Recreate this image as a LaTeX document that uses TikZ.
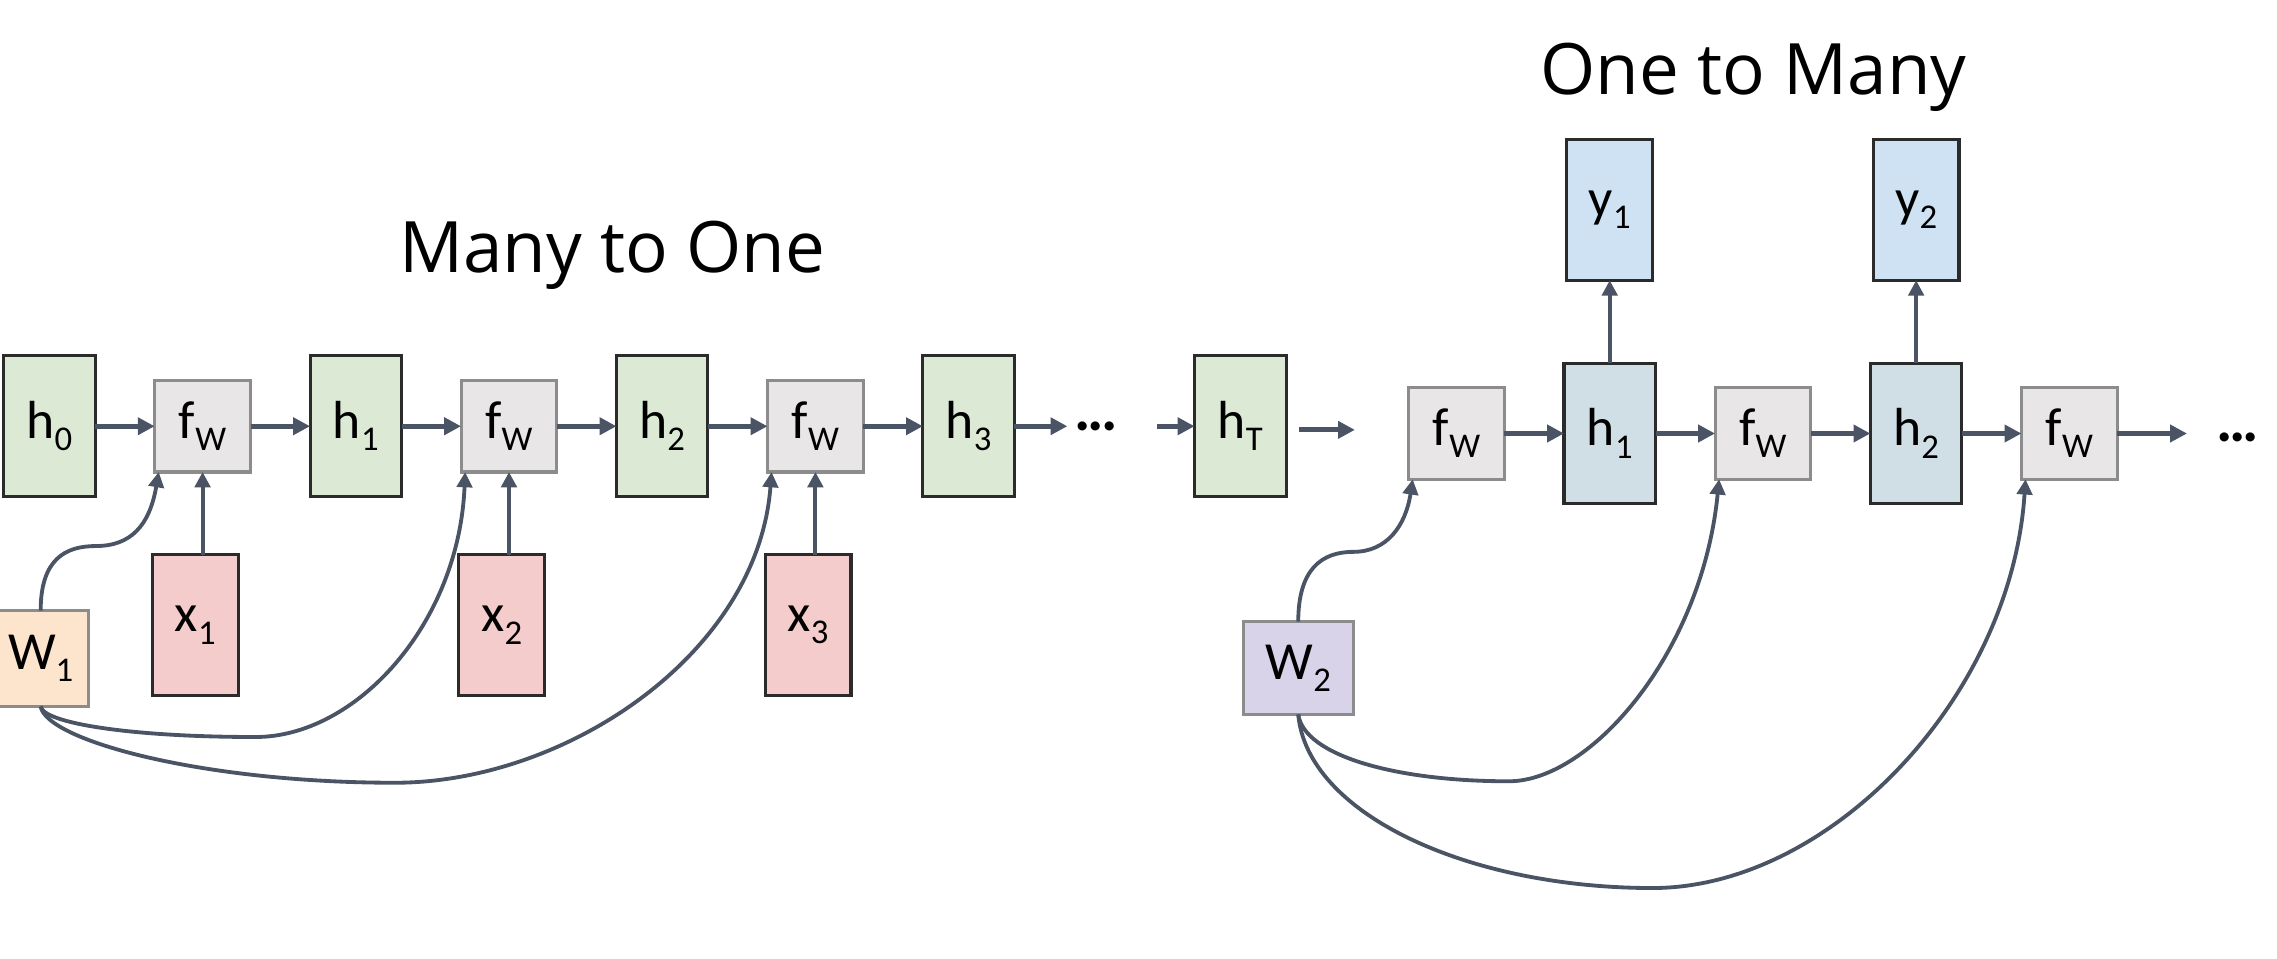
\documentclass[tikz,border=0pt]{standalone}
\usepackage{fontspec}
\setmainfont{Carlito}
\newfontfamily\titlefont{Open Sans}
\usepackage{xcolor}
\usepackage{tikz}
\usetikzlibrary{arrows.meta, positioning, calc}

\definecolor{hgreen}{HTML}{DCE9D5}
\definecolor{fgreybg}{HTML}{E8E6E6}
\definecolor{fgreyline}{HTML}{8C8C8C}
\definecolor{xpink}{HTML}{F4CCCC}
\definecolor{wpeach}{HTML}{FDE4CD}
\definecolor{wlav}{HTML}{D9D3E9}
\definecolor{yblue}{HTML}{CFE2F3}
\definecolor{hblue}{HTML}{D0DFE6}
\definecolor{arrowc}{HTML}{4A5464}
\definecolor{boxline}{HTML}{2B2B2B}

\newcommand\lsub[1]{\raisebox{-2.4pt}{\fontsize{6.8}{8}\selectfont #1}}

\begin{document}
\begin{tikzpicture}[
    node distance=0.41cm,
    base/.style={rectangle, inner sep=0pt, outer sep=0pt, line width=0.6pt, font=\fontsize{10.5}{12}\selectfont},
    hbox/.style={base, draw=boxline, fill=hgreen, minimum width=0.63cm, minimum height=0.97cm},
    hrbox/.style={base, draw=boxline, fill=hblue, minimum width=0.63cm, minimum height=0.97cm},
    fbox/.style={base, draw=fgreyline, fill=fgreybg, minimum width=0.66cm, minimum height=0.63cm},
    xbox/.style={base, draw=boxline, fill=xpink, minimum width=0.59cm, minimum height=0.97cm},
    ybox/.style={base, draw=boxline, fill=yblue, minimum width=0.59cm, minimum height=0.97cm},
    wbox/.style={base, draw=fgreyline, minimum height=0.66cm},
    dots/.style={inner xsep=0pt, outer sep=0pt, font=\fontsize{12}{14}\selectfont\bfseries},
    title/.style={anchor=base, font=\titlefont\fontsize{13.9}{17}\selectfont},
    msg/.style={line width=1pt, draw=arrowc, ->, >={Triangle[length=3.3pt,width=3.3pt]}},
    up/.style={line width=0.8pt, draw=arrowc, ->, >={Triangle[length=3pt,width=3pt]}},
    link/.style={line width=0.75pt, draw=arrowc, ->, >={Triangle[length=3pt,width=3pt]}}
]
\useasboundingbox (0,0) rectangle (15.68,-6.60);

% Titles
\node[title] (many) at (4.215,-1.878) {Many to One};
\node[title] (one) at (12.075,-0.654) {One to Many};

% Many to one chain
\node[hbox] (h0) at (0.34,-2.935) {h\lsub{0}};
\node[fbox, right=of h0] (fW1) {f\lsub{W}};
\node[hbox, right=of fW1] (h1) {h\lsub{1}};
\node[fbox, right=of h1] (fW2) {f\lsub{W}};
\node[hbox, right=of fW2] (h2) {h\lsub{2}};
\node[fbox, right=of h2] (fW3) {f\lsub{W}};
\node[hbox, right=of fW3] (h3) {h\lsub{3}};
\node[dots, right=0.415cm of h3] (dots1) {.\kern-0.6pt.\kern-0.6pt.};
\node[hbox, right=0.53cm of dots1] (hT) {h\lsub{T}};
\coordinate (hTnext) at (9.33,-2.96);

\node[xbox, below=0.57cm of fW1, xshift=-0.05cm] (x1) {x\lsub{1}};
\node[xbox, below=0.57cm of fW2, xshift=-0.05cm] (x2) {x\lsub{2}};
\node[xbox, below=0.57cm of fW3, xshift=-0.05cm] (x3) {x\lsub{3}};
\node[wbox, fill=wpeach, minimum width=0.66cm] (W1) at (0.28,-4.535) {W\lsub{1}};

\draw[msg] (h0) -- (fW1);
\draw[msg] (fW1) -- (h1);
\draw[msg] (h1) -- (fW2);
\draw[msg] (fW2) -- (h2);
\draw[msg] (h2) -- (fW3);
\draw[msg] (fW3) -- (h3);
\draw[msg, shorten >=0.05cm] (h3) -- (dots1);
\draw[msg, shorten <=0.27cm] (dots1) -- (hT);
\draw[msg, shorten <=0.09cm] (hT.east |- hTnext) -- (hTnext);

\draw[up] (x1.north -| fW1.south) -- (fW1.south);
\draw[up] (x2.north -| fW2.south) -- (fW2.south);
\draw[up] (x3.north -| fW3.south) -- (fW3.south);

\draw[link] (W1.north) .. controls (0.28,-3.85) and (0.45,-3.76) .. (0.66,-3.76)
    .. controls (0.90,-3.76) and (1.03,-3.62) .. ([xshift=0.8pt]fW1.south west);
\draw[link] (W1.south) .. controls (0.30,-4.98) and (0.90,-5.075) .. (1.76,-5.075)
    .. controls (2.45,-5.075) and (3.16,-4.30) .. ([xshift=0.8pt]fW2.south west);
\draw[link] (W1.south) .. controls (0.32,-5.10) and (1.40,-5.39) .. (2.72,-5.39)
    .. controls (3.90,-5.39) and (5.22,-4.50) .. ([xshift=0.8pt]fW3.south west);

% One to many chain
\node[fbox] (fWa) at (10.03,-2.985) {f\lsub{W}};
\node[hrbox, right=of fWa] (h1r) {h\lsub{1}};
\node[fbox, right=of h1r] (fWb) {f\lsub{W}};
\node[hrbox, right=of fWb] (h2r) {h\lsub{2}};
\node[fbox, right=of h2r] (fWc) {f\lsub{W}};
\node[dots, right=0.68cm of fWc, yshift=-0.03cm] (dots2) {.\kern-0.6pt.\kern-0.6pt.};
\node[ybox, above=0.57cm of h1r] (y1) {y\lsub{1}};
\node[ybox, above=0.57cm of h2r] (y2) {y\lsub{2}};
\node[wbox, fill=wlav, minimum width=0.76cm, minimum height=0.64cm] (W2) at (8.94,-4.60) {W\lsub{2}};

\draw[msg] (fWa) -- (h1r);
\draw[msg] (h1r) -- (fWb);
\draw[msg] (fWb) -- (h2r);
\draw[msg] (h2r) -- (fWc);
\draw[msg, shorten >=0.20cm] (fWc.east) -- (fWc.east -| dots2.west);
\draw[up] (h1r) -- (y1);
\draw[up] (h2r) -- (y2);

\draw[link] (W2.north) .. controls (8.94,-3.92) and (9.10,-3.80) .. (9.32,-3.80)
    .. controls (9.55,-3.80) and (9.68,-3.62) .. ([xshift=0.8pt]fWa.south west);
\draw[link] (W2.south) .. controls (8.98,-5.20) and (9.60,-5.38) .. (10.39,-5.38)
    .. controls (10.95,-5.38) and (11.72,-4.50) .. ([xshift=0.8pt]fWb.south west);
\draw[link] (W2.south) .. controls (9.00,-5.60) and (10.10,-6.115) .. (11.38,-6.115)
    .. controls (12.60,-6.115) and (13.85,-4.80) .. ([xshift=0.8pt]fWc.south west);

\end{tikzpicture}
\end{document}
